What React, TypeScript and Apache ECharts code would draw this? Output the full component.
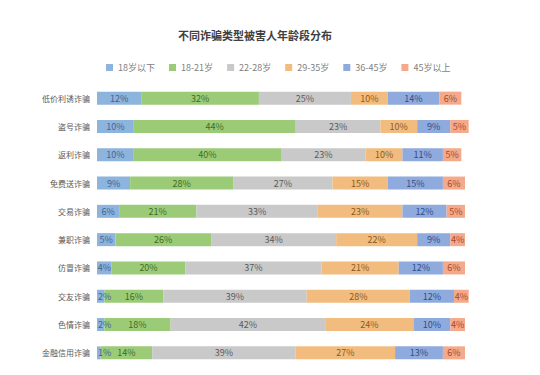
import React, { useEffect, useRef } from "react";
import * as echarts from "echarts";

const categories = ["低价利诱诈骗", "盗号诈骗", "返利诈骗", "免费送诈骗", "交易诈骗", "兼职诈骗", "仿冒诈骗", "交友诈骗", "色情诈骗", "金融信用诈骗"];
const seriesNames = ["18岁以下", "18-21岁", "22-28岁", "29-35岁", "36-45岁", "45岁以上"];
const under18 = [12, 10, 10, 9, 6, 5, 4, 2, 2, 1];
const age18to21 = [32, 44, 40, 28, 21, 26, 20, 16, 18, 14];
const age22to28 = [25, 23, 23, 27, 33, 34, 37, 39, 42, 39];
const age29to35 = [10, 10, 10, 15, 23, 22, 21, 28, 24, 27];
const age36to45 = [14, 9, 11, 15, 12, 9, 12, 12, 10, 13];
const over45 = [6, 5, 5, 6, 5, 4, 6, 4, 4, 6];

const colors = ["#8db4dc", "#9ccb78", "#c9c9c9", "#f2bc7f", "#8faadc", "#f4a98a"];
const labelColors = ["#3d6592", "#3f6b25", "#5a5a5a", "#8a5a22", "#2f4d8a", "#a3492c"];

export default function App() {
  const ref = useRef<HTMLDivElement>(null);
  useEffect(() => {
    if (!ref.current) return;
    const chart = echarts.init(ref.current, undefined, { renderer: "svg" });
    const all = [under18, age18to21, age22to28, age29to35, age36to45, over45];
    chart.setOption({
      animation: false,
      title: {
        text: "不同诈骗类型被害人年龄段分布",
        left: 242,
        textAlign: "center",
        top: 16,
        textStyle: { fontSize: 11, fontWeight: "bold", color: "#404040", fontFamily: "Noto Sans CJK SC" },
      },
      legend: {
        top: 50,
        left: 93,
        itemWidth: 7,
        itemHeight: 7,
        itemGap: 14,
        icon: "rect",
        textStyle: { fontSize: 9, color: "#7f7f7f", fontFamily: "Noto Sans CJK SC" },
        data: seriesNames,
      },
      grid: { left: 89, right: 67, top: 76, bottom: -2, containLabel: false },
      xAxis: { type: "value", min: 0, max: 100, show: false },
      yAxis: {
        type: "category",
        inverse: true,
        data: categories,
        axisLine: { show: false },
        axisTick: { show: false },
        axisLabel: { fontSize: 8, color: "#595959", margin: 7, fontFamily: "Noto Sans CJK SC" },
      },
      series: seriesNames.map((name, i) => ({
        name,
        type: "bar",
        stack: "total",
        barWidth: 13,
        clip: false,
        data: all[i].map((v) =>
          i === 0 && v <= 2 ? { value: v, label: { position: "insideLeft", distance: 1 } } : v
        ),
        itemStyle: { color: colors[i] },
        label: {
          show: true,
          position: "inside",
          formatter: "{c}%",
          fontSize: 9,
          color: labelColors[i],
          fontFamily: "Noto Sans CJK SC",
        },
      })),
    });
    return () => chart.dispose();
  }, []);
  return <div ref={ref} style={{ width: 524, height: 359 }} />;
}
